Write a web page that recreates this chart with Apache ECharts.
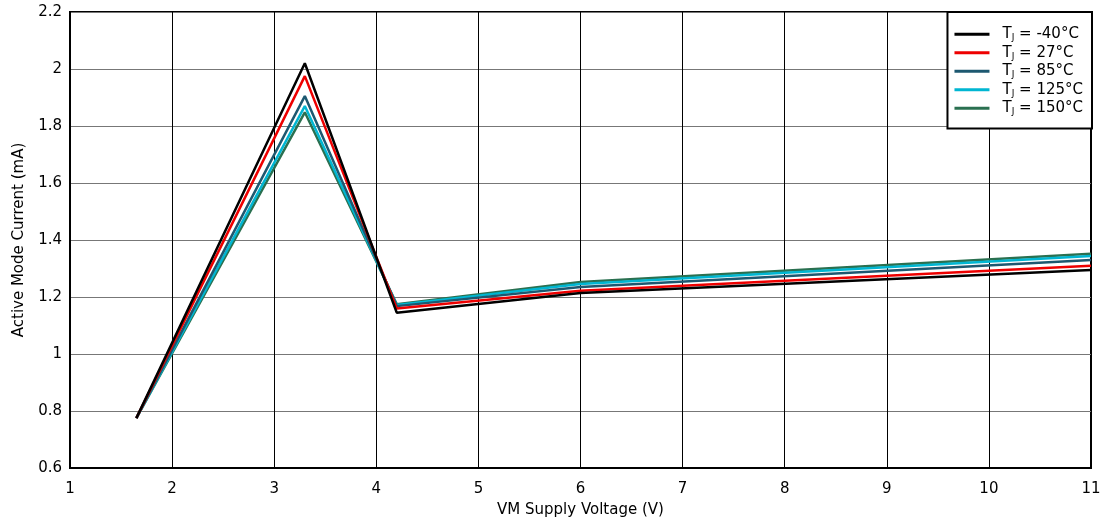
<!DOCTYPE html>
<html><head><meta charset="utf-8">
<script src="https://cdn.jsdelivr.net/npm/echarts@6/dist/echarts.min.js"></script>
<style>html,body{margin:0;padding:0;background:#fff}#c{width:1104px;height:525px}</style>
</head><body><div id="c"></div>
<script>
const voltages = [1.65, 3.3, 4.2, 6, 11];
const temps = ['-40', '27', '85', '125', '150'];
const cur_m40 = [0.775, 2.02, 1.145, 1.214, 1.295];
const cur_27 = [0.775, 1.975, 1.16, 1.222, 1.31];
const cur_85 = [0.775, 1.905, 1.168, 1.235, 1.33];
const cur_125 = [0.775, 1.87, 1.172, 1.246, 1.344];
const cur_150 = [0.775, 1.848, 1.175, 1.253, 1.352];
const colors = ['#000000', '#ee0000', '#1d5870', '#00b6d2', '#2a7050'];
const allData = [cur_m40, cur_27, cur_85, cur_125, cur_150];
const xTicks = [1,2,3,4,5,6,7,8,9,10,11];
const yTicks = [0.6,0.8,1,1.2,1.4,1.6,1.8,2,2.2];

const FONT = 'DejaVu Sans, Liberation Sans, sans-serif';
const chart = echarts.init(document.getElementById('c'));
const series = temps.map((t, i) => ({
  name: 'TJ = ' + t + '°C',
  type: 'line',
  data: voltages.map((v, k) => [v, allData[i][k]]),
  symbol: 'none',
  lineStyle: {color: colors[i], width: 2.5},
  itemStyle: {color: colors[i]},
  z: 10 - i
}));
chart.setOption({
  animation: false,
  textStyle: {fontFamily: FONT},
  grid: {left: 70, right: 13, top: 12, bottom: 57, show: true, borderColor: '#000', borderWidth: 2,
         containLabel: false, outerBoundsMode: 'none'},
  legend: {
    right: 12, top: 12, orient: 'vertical', itemGap: 2,
    padding: [14, 9, 12, 7],
    backgroundColor: '#fff', borderColor: '#000', borderWidth: 2,
    icon: 'rect', itemWidth: 35, itemHeight: 3,
    data: series.map(s => s.name),
    formatter: function(n){ return 'T{s|J}' + n.slice(2); },
    textStyle: {fontSize: 15, color: '#000', fontFamily: FONT, lineHeight: 16.5, padding: [0,0,0,8],
      rich: {s: {fontSize: 9, verticalAlign: 'bottom', padding: [8,0,0,0], color: '#000', fontFamily: FONT}}}
  },
  xAxis: {
    type: 'value', min: 1, max: 11, interval: 1,
    name: 'VM Supply Voltage (V)', nameLocation: 'middle', nameGap: 35,
    nameTextStyle: {fontSize: 15, color: '#000', fontFamily: FONT},
    axisLine: {show: true, lineStyle: {color: '#000', width: 2}},
    axisTick: {show: false},
    axisLabel: {fontSize: 15, color: '#000', margin: 14, fontFamily: FONT},
    splitLine: {show: true, lineStyle: {color: '#000', width: 1}}
  },
  yAxis: {
    type: 'value', min: 0.6, max: 2.2, interval: 0.2,
    name: 'Active Mode Current (mA)', nameLocation: 'middle', nameGap: 43,
    nameTextStyle: {fontSize: 15, color: '#000', fontFamily: FONT},
    axisLine: {show: true, lineStyle: {color: '#000', width: 2}},
    axisTick: {show: false},
    axisLabel: {fontSize: 15, color: '#000', margin: 8, fontFamily: FONT, formatter: v => String(+v.toFixed(1))},
    splitLine: {show: true, lineStyle: {color: '#777', width: 1}}
  },
  series: series
});
</script></body></html>
